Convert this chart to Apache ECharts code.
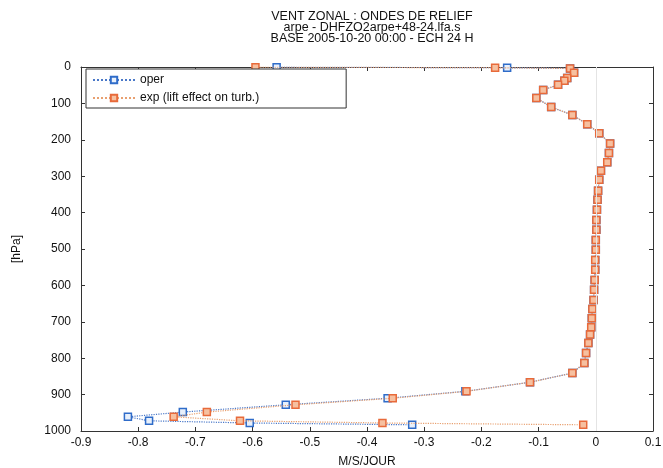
<!DOCTYPE html>
<html>
<head>
<meta charset="utf-8">
<script src="https://cdn.jsdelivr.net/npm/echarts@6/dist/echarts.min.js"></script>
<style>
  html, body { margin: 0; padding: 0; background: #fff; }
  #main { width: 663px; height: 468px; }
</style>
</head>
<body>
<div id="main"></div>
<script>
// pressure levels (hPa), top to bottom
var levels = [0.5, 2, 4, 16, 30, 38, 49, 63, 85, 110, 132, 157, 182, 210, 236, 262, 285, 310,
  340, 365, 392, 420, 447, 475, 502, 530, 557, 585, 612, 640, 665, 690, 715, 735, 758, 786,
  813, 841, 866, 891, 910, 928, 948, 961, 972, 978, 983];

// zonal wind tendency, M/S/JOUR
var operValues = [-0.558, -0.155, -0.045, -0.038, -0.050, -0.055, -0.066, -0.092, -0.104, -0.078,
  -0.041, -0.015, 0.006, 0.025, 0.023, 0.020, 0.009, 0.006, 0.004, 0.003, 0.002, 0.001, 0.001,
  0.000, 0.000, -0.001, -0.001, -0.002, -0.003, -0.004, -0.006, -0.007, -0.008, -0.010, -0.013,
  -0.017, -0.020, -0.041, -0.115, -0.228, -0.364, -0.542, -0.722, -0.818, -0.781, -0.605, -0.321];

var expValues = [-0.595, -0.176, -0.045, -0.038, -0.050, -0.055, -0.066, -0.092, -0.104, -0.078,
  -0.041, -0.015, 0.006, 0.025, 0.023, 0.020, 0.009, 0.006, 0.004, 0.003, 0.002, 0.001, 0.001,
  0.000, 0.000, -0.001, -0.001, -0.002, -0.003, -0.004, -0.006, -0.007, -0.008, -0.010, -0.013,
  -0.017, -0.020, -0.041, -0.115, -0.226, -0.355, -0.525, -0.680, -0.738, -0.622, -0.373, -0.022];

var seriesNames = ['oper', 'exp (lift effect on turb.)'];
var titleLines = ['VENT ZONAL : ONDES DE RELIEF', 'arpe - DHFZO2arpe+48-24.lfa.s', 'BASE 2005-10-20 00:00 - ECH 24 H'];

function pairs(vals) {
  return vals.map(function (v, i) { return [v, levels[i]]; });
}

function fmtX(v) {
  var r = Math.round(v * 10) / 10;
  return r === 0 ? '0' : String(r);
}

var font = 'Liberation Sans, Arial, sans-serif';
var axisCol = '#333';

var myChart = echarts.init(document.getElementById('main'));

var option = {
  backgroundColor: '#fff',
  animation: false,
  textStyle: { fontFamily: font },
  title: {
    text: titleLines.join('\n'),
    left: 367,
    textAlign: 'center',
    top: 6,
    textStyle: { fontSize: 12.5, fontWeight: 'normal', color: '#111', lineHeight: 11, fontFamily: font }
  },
  legend: {
    data: seriesNames,
    orient: 'vertical',
    left: 86,
    top: 69,
    padding: [5, 87, 4, 6],
    itemGap: 6,
    itemWidth: 42,
    itemHeight: 8,
    backgroundColor: '#fff',
    borderColor: '#333',
    borderWidth: 1,
    borderRadius: 0,
    textStyle: { fontSize: 12, color: '#111', fontFamily: font }
  },
  grid: { left: 81, right: 10, top: 67, bottom: 37, outerBoundsMode: 'none', containLabel: false },
  xAxis: [{
    type: 'value',
    min: -0.9, max: 0.1, interval: 0.1,
    name: 'M/S/JOUR',
    nameLocation: 'middle',
    nameGap: 25,
    nameTextStyle: { fontSize: 12, color: '#111' },
    axisLine: { show: true, onZero: false, lineStyle: { color: axisCol } },
    axisTick: { inside: true, length: 4, lineStyle: { color: axisCol } },
    axisLabel: { fontSize: 12, color: '#111', margin: 6, formatter: fmtX },
    splitLine: { show: false }
  }, {
    type: 'value', position: 'top',
    min: -0.9, max: 0.1, interval: 0.1,
    axisLine: { show: true, onZero: false, lineStyle: { color: axisCol } },
    axisTick: { inside: true, length: 4, lineStyle: { color: axisCol } },
    axisLabel: { show: false },
    splitLine: { show: false }
  }],
  yAxis: [{
    type: 'value',
    inverse: true,
    min: 0, max: 1000, interval: 100,
    name: '[hPa]',
    nameLocation: 'middle',
    nameGap: 58,
    nameRotate: 90,
    nameTextStyle: { fontSize: 12, color: '#111' },
    axisLine: { show: true, onZero: false, lineStyle: { color: axisCol } },
    axisTick: { inside: true, length: 4, lineStyle: { color: axisCol } },
    axisLabel: { fontSize: 12, color: '#111', margin: 10, formatter: function (v) { return String(v); } },
    splitLine: { show: false }
  }, {
    type: 'value', position: 'right',
    inverse: true,
    min: 0, max: 1000, interval: 100,
    axisLine: { show: true, onZero: false, lineStyle: { color: axisCol } },
    axisTick: { inside: true, length: 4, lineStyle: { color: axisCol } },
    axisLabel: { show: false },
    splitLine: { show: false }
  }],
  series: [{
    name: seriesNames[0],
    type: 'line',
    data: pairs(operValues),
    symbol: 'rect',
    symbolSize: 7,
    lineStyle: { color: '#4a78c8', width: 1.2, type: 'dotted' },
    itemStyle: { color: '#e8f0fb', borderColor: '#2f6cc9', borderWidth: 1.5 },
    markLine: {
      silent: true,
      symbol: 'none',
      label: { show: false },
      lineStyle: { color: '#e4e4e4', width: 1, type: 'solid' },
      data: [{ xAxis: 0 }]
    },
    z: 2
  }, {
    name: seriesNames[1],
    type: 'line',
    data: pairs(expValues),
    symbol: 'rect',
    symbolSize: 7,
    lineStyle: { color: '#e8a070', width: 1.2, type: 'dotted' },
    itemStyle: { color: '#f6c0a0', borderColor: '#e86a3a', borderWidth: 1.5 },
    z: 3
  }]
};

myChart.setOption(option);
</script>
</body>
</html>
